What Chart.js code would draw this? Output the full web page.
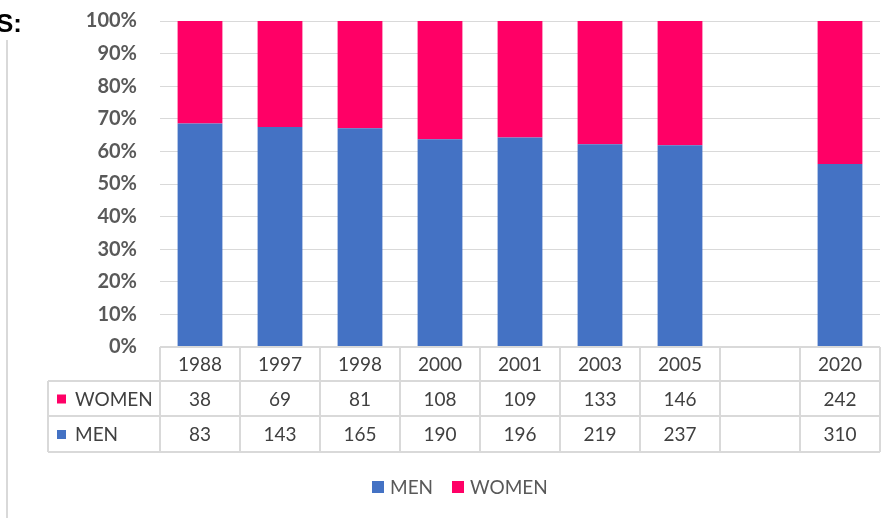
<!DOCTYPE html>
<html><head><meta charset="utf-8">
<script src="https://cdn.jsdelivr.net/npm/chart.js@4/dist/chart.umd.min.js"></script>
<style>html,body{margin:0;padding:0;background:#fff}canvas{display:block}</style>
</head><body>
<canvas id="c" width="896" height="518"></canvas>
<script>
const categories = ['1988','1997','1998','2000','2001','2003','2005','','2020'];
const women = [38,69,81,108,109,133,146,null,242];
const men = [83,143,165,190,196,219,237,null,310];
const yTickValues = [0,10,20,30,40,50,60,70,80,90,100];
const seriesNames = ['MEN','WOMEN'];
const colors = {MEN:'#4472C4', WOMEN:'#FF0066'};

const pct = (a,b) => a.map((v,i) => (v==null||b[i]==null) ? null : v/(v+b[i])*100);
const menPct = pct(men, women);
const womenPct = pct(women, men);

const FONT = 'Lato, "Open Sans", sans-serif';

const tablePlugin = {
  id:'table',
  afterDraw(chart){
    const ctx = chart.ctx;
    const xs = chart.scales.x;
    const area = chart.chartArea;
    const n = categories.length;
    const colW = (area.right-area.left)/n;
    const top = area.bottom;
    const r1 = top+34, r2 = r1+35, r3 = r2+36;
    const leftX = 48;
    ctx.save();
    // page decoration
    ctx.fillStyle='#000';
    ctx.font='bold 26px "Liberation Sans", Arial, sans-serif';
    ctx.textBaseline='alphabetic';
    ctx.textAlign='left';
    ctx.fillText('S:', -4, 32);
    ctx.strokeStyle='#d9d9d9';
    ctx.lineWidth=2;
    ctx.beginPath(); ctx.moveTo(7,40); ctx.lineTo(7,518); ctx.stroke();

    // table grid
    ctx.strokeStyle='#d9d9d9';
    ctx.lineWidth=2;
    ctx.beginPath();
    ctx.moveTo(area.left, top); ctx.lineTo(area.right, top);
    ctx.moveTo(leftX, r1); ctx.lineTo(area.right, r1);
    ctx.moveTo(leftX, r2); ctx.lineTo(area.right, r2);
    ctx.moveTo(leftX, r3); ctx.lineTo(area.right, r3);
    ctx.moveTo(leftX, r1); ctx.lineTo(leftX, r3);
    for(let i=0;i<=n;i++){
      const x = area.left + i*colW;
      ctx.moveTo(x, top); ctx.lineTo(x, r3);
    }
    ctx.stroke();

    ctx.font='19px '+FONT;
    ctx.fillStyle='#404040';
    ctx.textAlign='center';
    ctx.textBaseline='middle';
    categories.forEach((c,i)=>{
      const x = xs.getPixelForValue(i);
      ctx.fillText(c, x, (top+r1)/2+1);
      if(women[i]!=null) ctx.fillText(String(women[i]), x, (r1+r2)/2+1);
      if(men[i]!=null) ctx.fillText(String(men[i]), x, (r2+r3)/2+1);
    });
    // row labels
    ctx.textAlign='left';
    ctx.fillStyle=colors.WOMEN; ctx.fillRect(57, (r1+r2)/2-4, 9, 9);
    ctx.fillStyle=colors.MEN; ctx.fillRect(57, (r2+r3)/2-4, 9, 9);
    ctx.fillStyle='#404040';
    ctx.fillText('WOMEN', 75, (r1+r2)/2+1);
    ctx.fillText('MEN', 75, (r2+r3)/2+1);

    // legend
    const ly = 487;
    ctx.fillStyle=colors.MEN; ctx.fillRect(372, ly-6, 12, 12);
    ctx.fillStyle=colors.WOMEN; ctx.fillRect(452, ly-6, 12, 12);
    ctx.fillStyle='#595959';
    ctx.fillText(seriesNames[0], 390, ly+1);
    ctx.fillText(seriesNames[1], 470, ly+1);
    ctx.restore();
  }
};

new Chart(document.getElementById('c'), {
  type:'bar',
  data:{
    labels:categories,
    datasets:[
      {label:seriesNames[0], data:menPct, backgroundColor:colors.MEN, stack:'s'},
      {label:seriesNames[1], data:womenPct, backgroundColor:colors.WOMEN, stack:'s'}
    ]
  },
  options:{
    responsive:false,
    animation:false,
    devicePixelRatio:1,
    layout:{padding:{top:21,right:16,bottom:171,left:0}},
    datasets:{bar:{categoryPercentage:1, barPercentage:0.56}},
    plugins:{legend:{display:false}, tooltip:{enabled:false}},
    scales:{
      x:{display:false, stacked:true, grid:{display:false}},
      y:{
        stacked:true, min:0, max:100,
        afterFit(s){ s.width = 160; },
        afterBuildTicks(s){ s.ticks = yTickValues.map(v=>({value:v})); },
        border:{display:false},
        grid:{color:'#d9d9d9', lineWidth:1, drawTicks:true, tickLength:20, tickColor:'rgba(0,0,0,0)'},
        ticks:{padding:3, color:'#595959', font:{family:FONT, size:20, weight:'bold'}, callback:v=>v+'%'}
      }
    }
  },
  plugins:[tablePlugin]
});
</script>
</body></html>
